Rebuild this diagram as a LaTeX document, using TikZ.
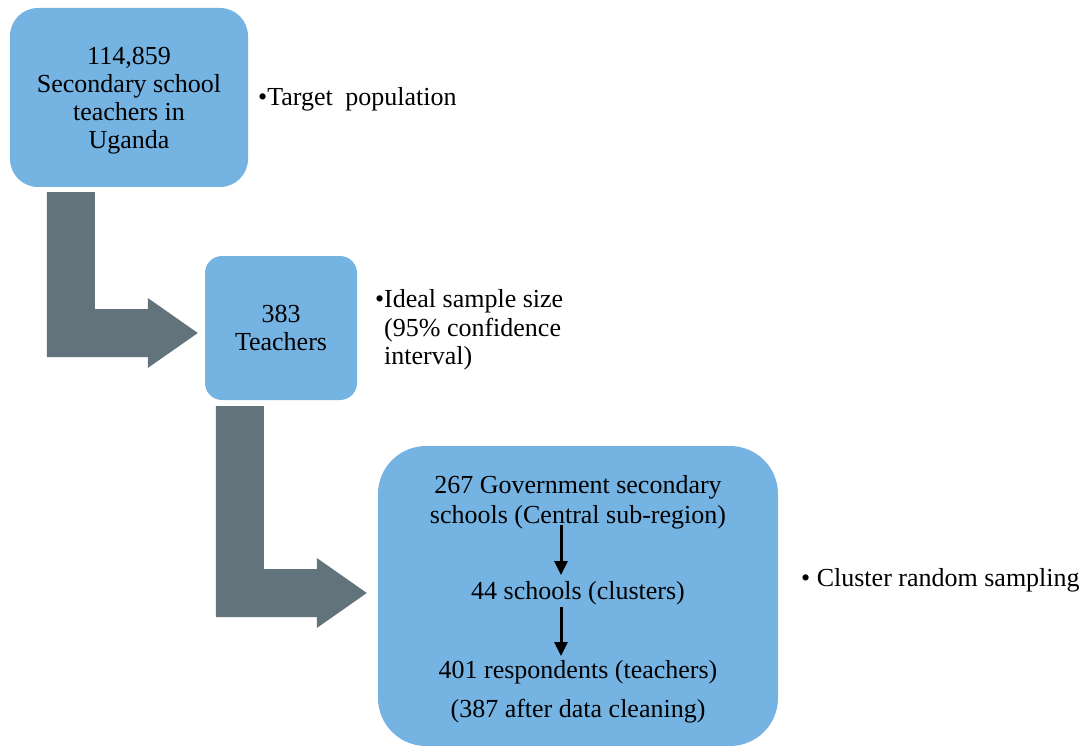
\documentclass[tikz,border=0pt]{standalone}
\usepackage{fontspec}
\setmainfont{Liberation Serif}
\usetikzlibrary{arrows.meta,calc}
\definecolor{boxblue}{RGB}{116,179,226}
\definecolor{elbowgray}{RGB}{99,115,123}
\newcommand\diagfont{\fontsize{26}{28}\selectfont}
\begin{document}
\begin{tikzpicture}[x=1pt,y=-1pt,
  box/.style={fill=boxblue, draw=none, align=center, inner sep=0pt, font=\diagfont},
  txt/.style={inner sep=0pt, font=\diagfont, text=black},
  elbow/.style={fill=elbowgray, draw=none},
  steparrow/.style={line width=3pt, -{Triangle[width=13pt,length=14pt]}}]
\useasboundingbox (0,0) rectangle (1086,746);

% stages of the sampling procedure
\node[box, rounded corners=28pt, minimum width=238pt, minimum height=179pt] (pop) at (129,97.5) {};
\node[txt, align=center] (popT) at (129,100.5)
  {114,859\\Secondary school\\teachers in\\Uganda};
\node[box, rounded corners=17pt, minimum width=152pt, minimum height=144pt] (ideal) at (281,328)
  {383\\Teachers};
\node[box, rounded corners=48pt, minimum width=400pt, minimum height=300pt] (clus) at (578,596) {};

% contents of the cluster stage
\node[txt, anchor=base] (govA) at (578,493) {267 Government secondary};
\node[txt, anchor=base] (govB) at (578,523) {schools (Central sub-region)};
\node[txt, anchor=base] (sch) at (578,599) {44 schools (clusters)};
\node[txt, anchor=base] (respA) at (578,678) {401 respondents (teachers)};
\node[txt, anchor=base] (respB) at (578,717) {(387 after data cleaning)};

\draw[steparrow] ($(govB.base)+(-17,2)$) -- ($(sch.base)+(-17,-24)$);
\draw[steparrow] ($(sch.base)+(-17,8)$) -- ($(respA.base)+(-17,-22)$);

% side labels
\node[txt, anchor=base west] (lblA) at (258,106) {•Target\hspace{6pt} population};
\node[txt, align=left, anchor=west, font=\fontsize{26}{28.5}\selectfont] (lblB) at (384,330)
  {\llap{•}Ideal sample size\\(95\% confidence\\interval)};
\node[txt, anchor=base west] (lblC) at (801,586) {• Cluster random sampling};

% bent block arrows between stages
\coordinate (e1s) at ($(pop.south west)+(37,5)$);
\coordinate (e1t) at ($(ideal.west)+(-7,5)$);
\coordinate (e2s) at ($(ideal.south west)+(11,6)$);
\coordinate (e2t) at ($(clus.west)+(-11,-3)$);

\fill[elbow] let \p1=(e1s), \p2=(e1t) in
  (\x1,\y1) -- (\x1+48pt,\y1) -- (\x1+48pt,\y2+24pt) -- (\x2-50pt,\y2+24pt)
  -- (\x2-50pt,\y2+35pt) -- (\x2,\y2) -- (\x2-50pt,\y2-35pt) -- (\x2-50pt,\y2-24pt)
  -- (\x1,\y2-24pt) -- cycle;
\fill[elbow] let \p1=(e2s), \p2=(e2t) in
  (\x1,\y1) -- (\x1+48pt,\y1) -- (\x1+48pt,\y2+24pt) -- (\x2-50pt,\y2+24pt)
  -- (\x2-50pt,\y2+35pt) -- (\x2,\y2) -- (\x2-50pt,\y2-35pt) -- (\x2-50pt,\y2-24pt)
  -- (\x1,\y2-24pt) -- cycle;
\end{tikzpicture}
\end{document}
